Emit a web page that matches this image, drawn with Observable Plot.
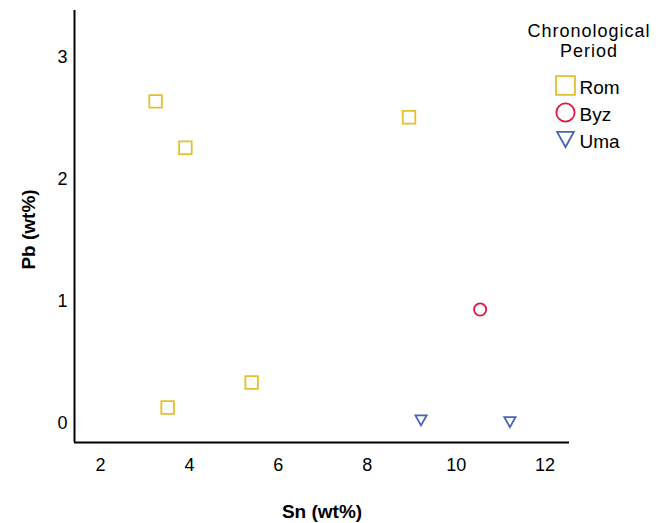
<!DOCTYPE html>
<html>
<head>
<meta charset="utf-8">
<script src="https://cdn.jsdelivr.net/npm/d3@7"></script>
<script src="https://cdn.jsdelivr.net/npm/@observablehq/plot@0.6"></script>
<style>
  html, body { margin: 0; padding: 0; background: #fff; }
  #wrap { position: relative; width: 666px; height: 523px; font-family: "Liberation Sans", Arial, Helvetica, sans-serif; }
  #legend-title { position: absolute; left: 499px; width: 180px; top: 21px; text-align: center; font-size: 18px; line-height: 20px; letter-spacing: 1px; color: #000; }
  #legend { position: absolute; left: 545px; top: 60px; }
  svg { font-family: "Liberation Sans", Arial, Helvetica, sans-serif; }
</style>
</head>
<body>
<div id="wrap">
  <div id="chart"></div>
  <div id="legend-title">Chronological<br>Period</div>
  <div id="legend"></div>
</div>
<script>
// ---- data ----
const periods = ["Rom", "Byz", "Uma"];
const periodColors = ["#E6C02C", "#E2143F", "#4864B8"];
const romSn = [3.24, 3.91, 8.94, 5.40, 3.51];
const romPb = [2.64, 2.26, 2.51, 0.336, 0.131];
const byzSn = [10.54];
const byzPb = [0.934];
const umaSn = [9.21, 11.21];
const umaPb = [0.025, 0.011];
const xTicks = [2, 4, 6, 8, 10, 12];
const yTicks = [0, 1, 2, 3];
const xDomain = [1.415, 12.55];
const yDomain = [-0.156, 3.385];

const data = [
  ...romSn.map((v, i) => ({period: "Rom", sn: v, pb: romPb[i]})),
  ...byzSn.map((v, i) => ({period: "Byz", sn: v, pb: byzPb[i]})),
  ...umaSn.map((v, i) => ({period: "Uma", sn: v, pb: umaPb[i]}))
];

// custom open symbols (size = r*r*PI as passed by Plot)
const sq = {draw(ctx, size) { const r = Math.sqrt(size / Math.PI), h = 0.9 * r; ctx.moveTo(-h, -h); ctx.lineTo(h, -h); ctx.lineTo(h, h); ctx.lineTo(-h, h); ctx.closePath(); }};
const ci = {draw(ctx, size) { const r = Math.sqrt(size / Math.PI) * 0.87; ctx.moveTo(r, 0); ctx.arc(0, 0, r, 0, 2 * Math.PI); }};
const tri = {draw(ctx, size) { const r = Math.sqrt(size / Math.PI), w = 0.8 * r, h = 0.72 * r; ctx.moveTo(-w, -h); ctx.lineTo(w, -h); ctx.lineTo(0, h); ctx.closePath(); }};
const symbolRange = [sq, ci, tri];

const chart = Plot.plot({
  width: 666,
  height: 523,
  marginLeft: 74,
  marginRight: 97,
  marginTop: 10,
  marginBottom: 81,
  style: {fontSize: "18px", fontFamily: "'Liberation Sans', Arial, Helvetica, sans-serif", color: "#000", background: "#fff"},
  x: {domain: xDomain},
  y: {domain: yDomain},
  color: {type: "ordinal", domain: periods, range: periodColors},
  symbol: {domain: periods, range: symbolRange},
  marks: [
    Plot.axisX({ticks: xTicks, tickSize: 0, tickPadding: 16, label: null, fontSize: 18, tickFormat: d3.format("d")}),
    Plot.axisY({ticks: yTicks, tickSize: 0, tickPadding: 7, label: null, fontSize: 18, tickFormat: d3.format("d")}),
    Plot.ruleX([xDomain[0]], {stroke: "#000", strokeWidth: 2}),
    Plot.ruleY([yDomain[0]], {stroke: "#000", strokeWidth: 2}),
    Plot.dot(data, {x: "sn", y: "pb", symbol: "period", stroke: "period", r: 7, strokeWidth: 1.8}),
    Plot.text(["Sn (wt%)"], {frameAnchor: "bottom", dy: 69, text: d => d, fontWeight: "bold", fontSize: 19, lineAnchor: "middle", textAnchor: "middle", letterSpacing: "0.8px"}),
    Plot.text(["Pb (wt%)"], {frameAnchor: "left", dx: -46, dy: 3, text: d => d, fontWeight: "bold", fontSize: 19, rotate: -90, lineAnchor: "middle", textAnchor: "middle", letterSpacing: "0.8px"})
  ]
});
document.getElementById("chart").appendChild(chart);

const legend = Plot.plot({
  width: 120,
  height: 100,
  margin: 0,
  style: {fontFamily: "'Liberation Sans', Arial, Helvetica, sans-serif", color: "#000", background: "transparent"},
  x: {axis: null},
  y: {type: "point", domain: periods, range: [25, 79], padding: 0, axis: null},
  color: {type: "ordinal", domain: periods, range: periodColors},
  symbol: {domain: periods, range: symbolRange},
  marks: [
    Plot.dot(periods, {frameAnchor: "left", y: d => d, dx: 20, symbol: d => d, stroke: d => d, r: 10.5, strokeWidth: 1.8}),
    Plot.text(periods, {frameAnchor: "left", y: d => d, dx: 34, text: d => d, textAnchor: "start", fontSize: 19, dy: 2, letterSpacing: "0.3px"})
  ]
});
document.getElementById("legend").appendChild(legend);
</script>
</body>
</html>
